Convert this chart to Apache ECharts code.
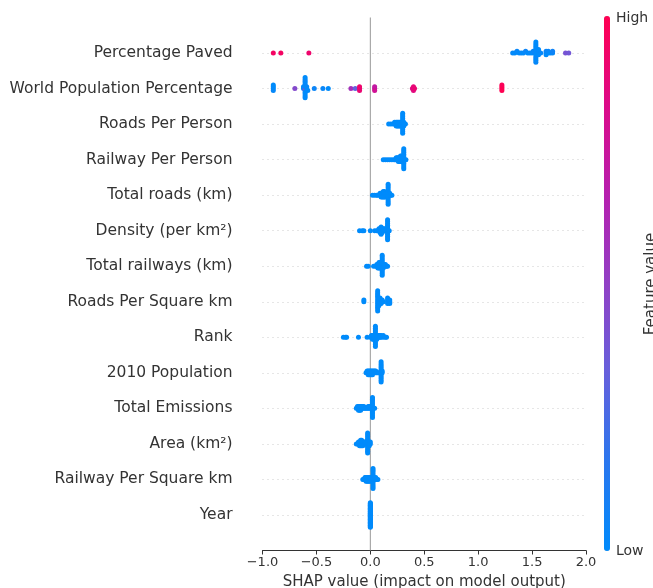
<!DOCTYPE html>
<html>
<head>
<meta charset="utf-8">
<title>SHAP summary plot</title>
<script src="https://cdn.jsdelivr.net/npm/echarts@6/dist/echarts.min.js"></script>
<style>
  html, body { margin: 0; padding: 0; background: #fff; }
  #chart { width: 653px; height: 588px; }
</style>
</head>
<body>
<div id="chart"></div>
<script>
// feature names, top row first
const features = [
  'Percentage Paved', 'World Population Percentage', 'Roads Per Person',
  'Railway Per Person', 'Total roads (km)', 'Density (per km²)',
  'Total railways (km)', 'Roads Per Square km', 'Rank', '2010 Population',
  'Total Emissions', 'Area (km²)', 'Railway Per Square km', 'Year'
]

// SHAP values, one entry per sample (41 samples)
const percentagePaved = [
  -0.90, -0.83, -0.57,
  1.32, 1.34, 1.36, 1.38, 1.40, 1.42, 1.44, 1.46, 1.48, 1.50, 1.51,
  1.535, 1.535, 1.535, 1.535, 1.535, 1.535, 1.535, 1.535, 1.535, 1.535, 1.535, 1.535,
  1.56, 1.56, 1.56, 1.56, 1.58, 1.63, 1.63, 1.63, 1.65, 1.65, 1.67, 1.69, 1.69,
  1.81, 1.84
]
const worldPopPct = [
  -0.90, -0.90, -0.90, -0.90, -0.70, -0.62, -0.62,
  -0.605, -0.605, -0.605, -0.605, -0.605, -0.605, -0.605, -0.605, -0.605, -0.605, -0.605, -0.605,
  -0.59, -0.59, -0.58, -0.52, -0.44, -0.39, -0.18, -0.14,
  -0.10, -0.10, -0.10, 0.04, 0.04, 0.04, 0.39, 0.40, 0.40, 0.41,
  1.22, 1.22, 1.22, 1.22
]
const roadsPerPerson = [
  0.17, 0.19, 0.21, 0.225, 0.225, 0.24, 0.24, 0.24, 0.25, 0.25, 0.25, 0.26, 0.26, 0.26,
  0.27, 0.27, 0.27, 0.28, 0.28, 0.28, 0.285, 0.29, 0.29,
  0.30, 0.30, 0.30, 0.30, 0.30, 0.30, 0.30, 0.30, 0.30, 0.30, 0.30, 0.30,
  0.31, 0.31, 0.31, 0.315, 0.32, 0.325
]
const railwayPerPerson = [
  0.12, 0.14, 0.16, 0.18, 0.20, 0.22, 0.23, 0.24, 0.24, 0.25, 0.25, 0.26, 0.26, 0.26,
  0.27, 0.27, 0.27, 0.28, 0.28, 0.28, 0.28, 0.29, 0.29, 0.29, 0.29, 0.30, 0.30,
  0.31, 0.31, 0.31, 0.31, 0.31, 0.31, 0.31, 0.31, 0.31, 0.31, 0.31, 0.31,
  0.32, 0.33
]
const totalRoads = [
  0.02, 0.04, 0.06, 0.07, 0.09, 0.09, 0.10, 0.10, 0.10, 0.11, 0.11, 0.11, 0.12, 0.12,
  0.12, 0.12, 0.13, 0.13, 0.13, 0.13, 0.14, 0.14, 0.14, 0.15, 0.15,
  0.165, 0.165, 0.165, 0.165, 0.165, 0.165, 0.165, 0.165, 0.165, 0.165, 0.165, 0.165,
  0.18, 0.18, 0.19, 0.20
]
const density = [
  -0.10, -0.075, -0.06, 0.00, 0.04, 0.06, 0.07, 0.08, 0.08, 0.09, 0.09, 0.09,
  0.10, 0.10, 0.10, 0.10, 0.10, 0.11, 0.11, 0.11, 0.12, 0.12, 0.13, 0.13, 0.14, 0.15, 0.15,
  0.16, 0.16, 0.16, 0.16, 0.16, 0.16, 0.16, 0.16, 0.16, 0.16, 0.16, 0.16,
  0.17, 0.175
]
const totalRailways = [
  -0.035, -0.02, 0.03, 0.05, 0.06, 0.06, 0.07, 0.07, 0.07, 0.08, 0.08, 0.08, 0.08,
  0.09, 0.09, 0.09, 0.09, 0.10, 0.10, 0.10,
  0.11, 0.11, 0.11, 0.11, 0.11, 0.11, 0.11, 0.11, 0.11, 0.11, 0.11, 0.11,
  0.12, 0.12, 0.12, 0.13, 0.13, 0.14, 0.14, 0.15, 0.16
]
const roadsPerSqKm = [
  -0.06, -0.06,
  0.068, 0.068, 0.068, 0.068, 0.068, 0.068, 0.068, 0.068, 0.068, 0.068, 0.068, 0.068,
  0.075, 0.075, 0.075, 0.075, 0.075, 0.08, 0.08, 0.08, 0.08, 0.08,
  0.09, 0.09, 0.09, 0.09, 0.10, 0.10, 0.10, 0.11, 0.11, 0.12,
  0.16, 0.16, 0.16, 0.16, 0.18, 0.18, 0.18
]
const rank = [
  -0.25, -0.23, -0.22, -0.11, -0.03, 0.00, 0.01, 0.01, 0.02, 0.02, 0.02, 0.03, 0.03, 0.03,
  0.047, 0.047, 0.047, 0.047, 0.047, 0.047, 0.047, 0.047, 0.047, 0.047, 0.047, 0.047,
  0.06, 0.06, 0.06, 0.07, 0.07, 0.08, 0.08, 0.09, 0.09, 0.10, 0.10, 0.12, 0.12, 0.14, 0.15
]
const population2010 = [
  -0.04, -0.03, -0.03, -0.02, -0.02, -0.02, -0.01, -0.01, -0.01, 0.00, 0.00, 0.00,
  0.01, 0.01, 0.01, 0.02, 0.02, 0.02, 0.03, 0.03, 0.04, 0.04, 0.05, 0.05, 0.06, 0.07, 0.08,
  0.10, 0.10, 0.10, 0.10, 0.10, 0.10, 0.10, 0.10, 0.10, 0.10, 0.10, 0.10,
  0.11, 0.11
]
const totalEmissions = [
  -0.13, -0.12, -0.12, -0.11, -0.11, -0.11, -0.10, -0.10, -0.10, -0.09, -0.09, -0.09,
  -0.08, -0.08, -0.07, -0.07, -0.06, -0.06, -0.05, -0.04, -0.03, -0.02, -0.02, -0.01, -0.01,
  0.00, 0.00,
  0.02, 0.02, 0.02, 0.02, 0.02, 0.02, 0.02, 0.02, 0.02, 0.02, 0.02, 0.02,
  0.03, 0.04
]
const area = [
  -0.13, -0.12, -0.11, -0.11, -0.10, -0.10, -0.10, -0.09, -0.09, -0.09, -0.09,
  -0.08, -0.08, -0.08, -0.08, -0.07, -0.07, -0.07, -0.06, -0.06, -0.05, -0.05, -0.04, -0.04,
  -0.025, -0.025, -0.025, -0.025, -0.025, -0.025, -0.025, -0.025, -0.025, -0.025, -0.025, -0.025,
  -0.01, -0.01, -0.01, 0.00, 0.00
]
const railwayPerSqKm = [
  -0.07, -0.06, -0.05, -0.05, -0.04, -0.04, -0.04, -0.03, -0.03, -0.03, -0.02, -0.02,
  -0.02, -0.01, -0.01, -0.01, 0.00, 0.00, 0.00, 0.01, 0.01,
  0.025, 0.025, 0.025, 0.025, 0.025, 0.025, 0.025, 0.025, 0.025, 0.025, 0.025, 0.025,
  0.03, 0.03, 0.04, 0.04, 0.05, 0.05, 0.06, 0.07
]
const year = [
  0, 0, 0, 0, 0, 0, 0, 0, 0, 0, 0, 0, 0, 0, 0, 0, 0, 0, 0, 0,
  0, 0, 0, 0, 0, 0, 0, 0, 0, 0, 0, 0, 0, 0, 0, 0, 0, 0, 0, 0, 0
]

// normalised feature values (0 = low, 1 = high) for the two rows that show colour;
// every other row reads as the lowest value (plain blue)
const percentagePavedFeat = [
  0.95, 0.95, 0.92,
  0.02, 0.00, 0.03, 0.00, 0.02, 0.00, 0.05, 0.00, 0.02, 0.00, 0.03,
  0.12, 0.00, 0.00, 0.02, 0.00, 0.00, 0.03, 0.00, 0.00, 0.00, 0.02, 0.00,
  0.00, 0.04, 0.00, 0.00, 0.02, 0.00, 0.05, 0.00, 0.00, 0.03, 0.00, 0.02, 0.06,
  0.40, 0.38
]
const worldPopPctFeat = [
  0.00, 0.00, 0.02, 0.00, 0.45, 0.00, 0.02,
  0.42, 0.00, 0.38, 0.00, 0.00, 0.02, 0.00, 0.00, 0.00, 0.03, 0.00, 0.00,
  0.00, 0.02, 0.00, 0.05, 0.03, 0.00, 0.58, 0.33,
  0.88, 0.92, 0.90, 0.75, 0.72, 0.78, 0.85, 0.88, 0.86, 0.90,
  1.00, 1.00, 1.00, 0.98
]

const shapRows = [
  percentagePaved, worldPopPct, roadsPerPerson, railwayPerPerson, totalRoads, density,
  totalRailways, roadsPerSqKm, rank, population2010, totalEmissions, area,
  railwayPerSqKm, year
]
const featRows = [percentagePavedFeat, worldPopPctFeat]

// x axis ticks
const xMin = -1.0
const xMax = 2.0
const xStep = 0.5

// beeswarm offsets the same way shap does it: bin the values and stack each bin
const swarm = (vals) => {
  const nbins = 100
  const lo = Math.min(...vals)
  const hi = Math.max(...vals)
  const quant = vals.map(v => Math.round(nbins * (v - lo) / (hi - lo + 1e-8)))
  const inds = vals.map((_, i) => i).sort((a, b) => quant[a] - quant[b] || a - b)
  const ys = new Array(vals.length).fill(0)
  let layer = 0
  let lastBin = -1
  inds.forEach(i => {
    if (quant[i] !== lastBin) layer = 0
    ys[i] = Math.ceil(layer / 2) * ((layer % 2) * 2 - 1)
    layer++
    lastBin = quant[i]
  })
  const m = Math.max(...ys) + 1
  return ys.map(y => y * 0.9 * (0.4 / m))
}

const nRows = features.length
const points = []
shapRows.forEach((vals, r) => {
  const pos = nRows - 1 - r
  const off = swarm(vals)
  const feat = featRows[r]
  vals.forEach((v, i) => {
    points.push([v, pos + off[i], feat ? feat[i] : 0])
  })
})

// dotted row guides: hide the lines at the axis ends (-1 and nRows)
const guideColors = []
for (let k = -1; k <= nRows; k++) {
  guideColors.push(k < 0 || k >= nRows ? 'rgba(0,0,0,0)' : '#cccccc')
}

const font = 'DejaVu Sans'
const chart = echarts.init(document.getElementById('chart'))

const option = {
  animation: false,
  grid: { left: 262.5, right: 67, top: 17.5, bottom: 37.5, outerBoundsMode: 'none' },
  xAxis: {
    type: 'value',
    min: xMin,
    max: xMax,
    interval: xStep,
    axisLine: { show: true, onZero: false, lineStyle: { color: '#333', width: 1 } },
    axisTick: { show: true, length: 4, lineStyle: { color: '#333' } },
    axisLabel: {
      color: '#333',
      fontSize: 13,
      fontFamily: font,
      margin: 6,
      formatter: v => v.toFixed(1).replace('-', '\u2212')
    },
    splitLine: { show: false },
    name: 'SHAP value (impact on model output)',
    nameLocation: 'middle',
    nameGap: 24,
    nameTextStyle: { color: '#333', fontSize: 15, fontFamily: font }
  },
  yAxis: {
    type: 'value',
    min: -1,
    max: nRows,
    interval: 1,
    axisLine: { show: false },
    axisTick: { show: false },
    axisLabel: {
      color: '#333',
      fontSize: 15.5,
      fontFamily: font,
      margin: 30,
      formatter: v => {
        const idx = nRows - 1 - v
        return idx >= 0 && idx < nRows ? features[idx] : ''
      }
    },
    splitLine: { show: true, lineStyle: { color: guideColors, type: [1, 4], width: 1 } }
  },
  visualMap: {
    type: 'continuous',
    min: 0,
    max: 1,
    dimension: 2,
    seriesIndex: 1,
    orient: 'vertical',
    left: 604,
    top: 16,
    itemWidth: 6,
    itemHeight: 535,
    padding: 0,
    calculable: false,
    hoverLink: false,
    inRange: {
      color: ['#008bfb', '#2a76ee', '#6660dc', '#9140c5', '#b61fae', '#dc0a88', '#ff0052']
    }
  },
  graphic: [
    {
      type: 'text', x: 616, y: 18,
      style: { text: 'High', fill: '#333', fontSize: 14, fontFamily: font, verticalAlign: 'middle' }
    },
    {
      type: 'text', x: 616, y: 551,
      style: { text: 'Low', fill: '#333', fontSize: 14, fontFamily: font, verticalAlign: 'middle' }
    },
    {
      type: 'text', x: 651, y: 284, rotation: Math.PI / 2,
      style: {
        text: 'Feature value', fill: '#333', fontSize: 15, fontFamily: font,
        align: 'center', verticalAlign: 'middle'
      }
    }
  ],
  series: [
    {
      // zero line
      type: 'line',
      data: [[0, -1], [0, nRows]],
      symbol: 'none',
      silent: true,
      z: 1,
      lineStyle: { color: '#999999', width: 1 }
    },
    {
      type: 'scatter',
      data: points,
      symbol: 'circle',
      symbolSize: 5,
      z: 2,
      itemStyle: { opacity: 1, borderWidth: 0 }
    }
  ]
}

chart.setOption(option)
</script>
</body>
</html>
